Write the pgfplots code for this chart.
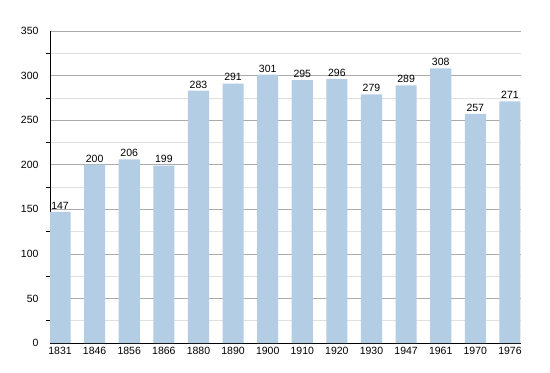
\documentclass[border=0pt]{standalone}
\usepackage{pgfplots}
\pgfplotsset{compat=1.18}
\usepackage{fontspec}
\setmainfont{Liberation Sans}
\definecolor{barblue}{HTML}{B3CDE5}
\definecolor{majgrid}{HTML}{ABABAB}
\definecolor{mingrid}{HTML}{E0E0E0}
\begin{document}
\begin{tikzpicture}[font=\fontsize{10.5bp}{12bp}\selectfont]
\begin{axis}[name=ax,
  scale only axis, width=471bp, height=312bp,
  xmin=-0.29, xmax=13.32, ymin=0, ymax=350,
  axis x line*=bottom, axis y line*=left,
  axis line style={black, line width=0.8pt, -},
  xtick=data,
  xticklabels={1831,1846,1856,1866,1880,1890,1900,1910,1920,1930,1947,1961,1970,1976},
  xtick style={draw=none},
  ytick={0,50,...,350},
  minor ytick={25,75,...,325},
  ymajorgrids, yminorgrids,
  major grid style={majgrid, line width=0.6pt},
  minor grid style={mingrid, line width=0.6pt},
  tick align=outside,
  major tick length=0pt, minor tick length=4bp,
  minor tick style={black, line width=0.6pt},
  /pgf/number format/assume math mode=true,
  ticklabel style={font=\fontsize{10.5bp}{12bp}\selectfont},
  yticklabel style={xshift=-8bp},
  xticklabel style={yshift=-1bp},
  ybar, bar width=0.61, bar shift=0pt,
  nodes near coords,
  nodes near coords style={font=\fontsize{10.5bp}{12bp}\selectfont, black, yshift=-1bp},
]
\addplot[fill=barblue, draw=none] coordinates {
(0,147) (1,200) (2,206) (3,199) (4,283) (5,291) (6,301) (7,295) (8,296) (9,279) (10,289) (11,308) (12,257) (13,271)};
\end{axis}
\path ([xshift=-50bp,yshift=-30bp]ax.south west) rectangle ([xshift=29bp,yshift=31bp]ax.north east);
\end{tikzpicture}
\end{document}
